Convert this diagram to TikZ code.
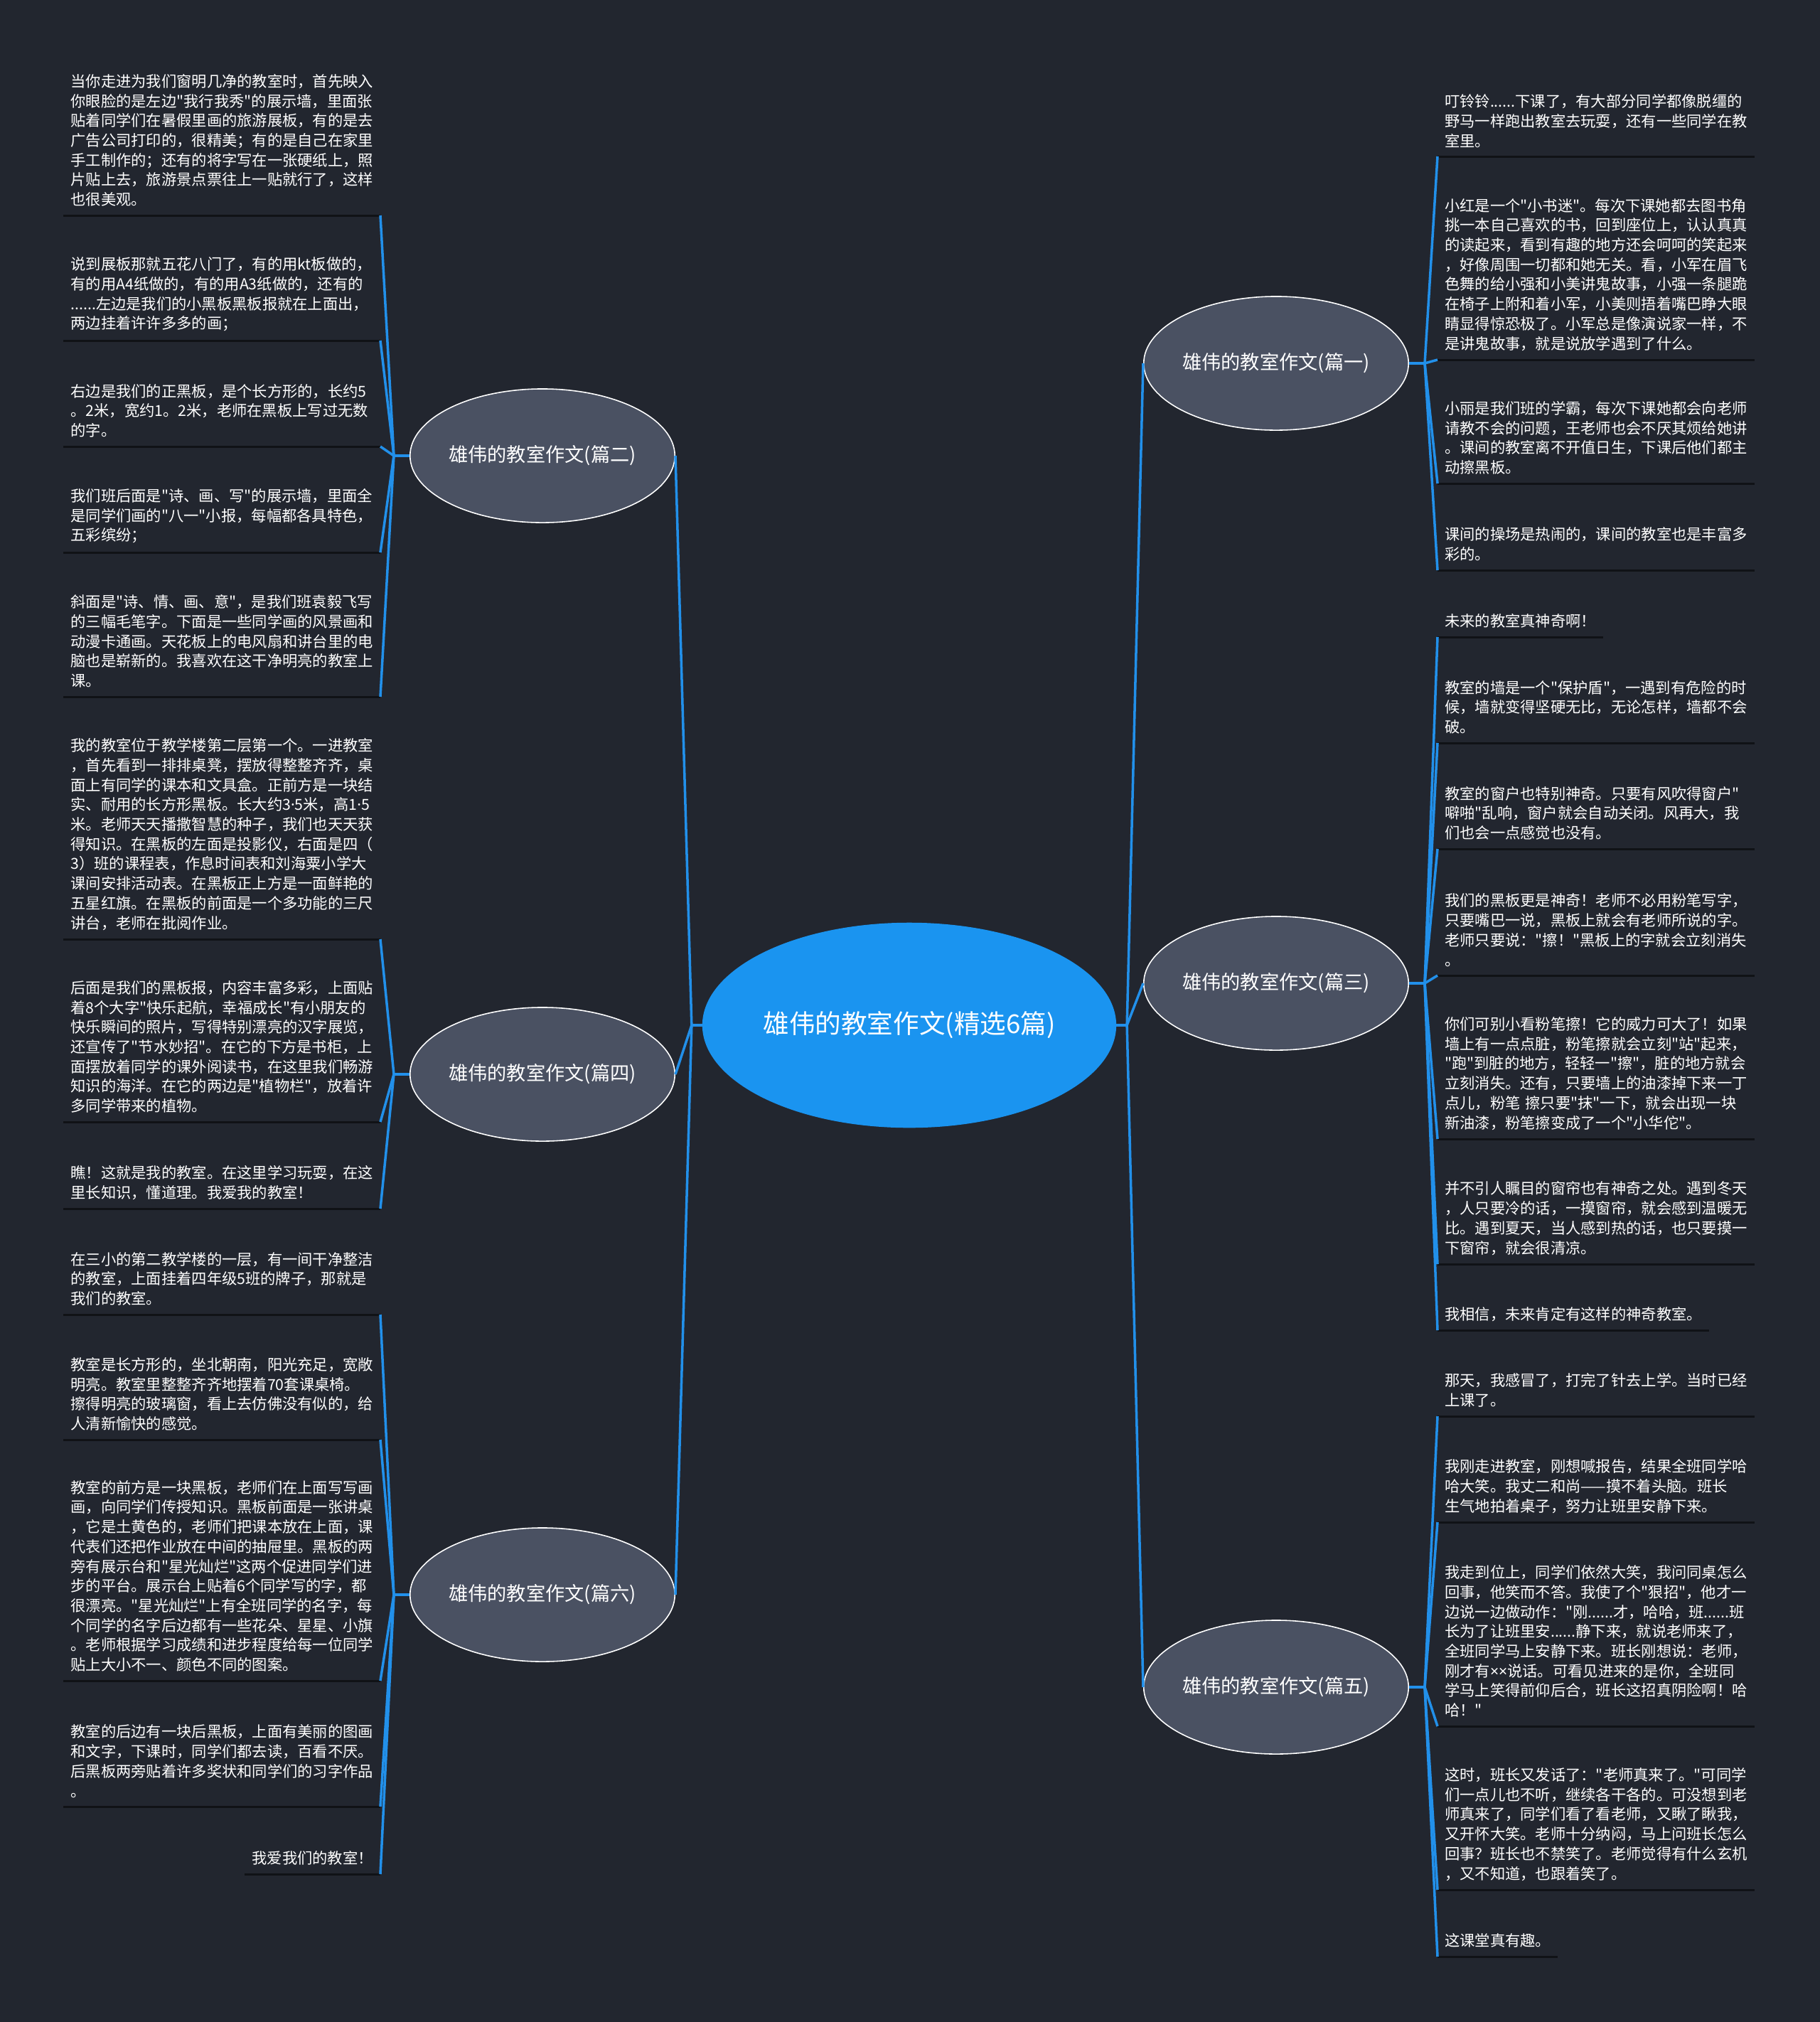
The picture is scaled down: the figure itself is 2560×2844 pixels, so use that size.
\documentclass[tikz,border=0pt]{standalone}
\usepackage{fontspec}
\setmainfont{Noto Sans CJK SC}[Ligatures=TeXOff]
\newfontfamily\latin{Noto Sans}[Ligatures=TeXOff]
\usetikzlibrary{shapes.geometric, positioning, calc}
\definecolor{cbg}{HTML}{22262F}
\definecolor{cblue}{HTML}{1A94F0}
\definecolor{clink}{HTML}{2290EA}
\definecolor{cbranch}{HTML}{4A5162}
\definecolor{crule}{HTML}{101216}
\newcommand{\md}{{\latin ·}}
\tikzset{
  every picture/.style={x=0.01cm, y=-0.01cm},
  root/.style={ellipse, fill=cblue, draw=cblue, text=white, minimum width=5.8cm, minimum height=2.87cm, inner sep=0pt, font=\fontsize{10.4pt}{12pt}\selectfont},
  branch/.style={ellipse, fill=cbranch, draw=white, line width=0.45pt, text=white, minimum width=3.72cm, minimum height=1.88cm, inner sep=0pt, font=\fontsize{7.74pt}{9pt}\selectfont},
  leafbase/.style={text=white, inner xsep=0.095cm, inner ysep=0.12cm, font=\fontsize{6.05pt}{7.88pt}\selectfont},
  leaf/.style={leafbase, text width=4.25cm, align=left},
  tag/.style={leafbase},
  link/.style={draw=clink, line width=1pt},
  rule/.style={draw=crule, line width=0.85pt},
}
\begin{document}
\begin{tikzpicture}
  \fill[cbg] (0,0) rectangle (2560,2844);
  \useasboundingbox (0,0) rectangle (2560,2844);
  % root and the six essays
  \node[root] (root) at (1279,1442) {雄伟的教室作文(精选6篇)};
  \node[branch] (b1) at (1795,511) {雄伟的教室作文(篇一)};
  \node[branch] (b2) at (763,641) {雄伟的教室作文(篇二)};
  \node[branch] (b3) at (1795,1383) {雄伟的教室作文(篇三)};
  \node[branch] (b4) at (763,1511) {雄伟的教室作文(篇四)};
  \node[branch] (b5) at (1795,2373) {雄伟的教室作文(篇五)};
  \node[branch] (b6) at (763,2243) {雄伟的教室作文(篇六)};
  % left: 篇二
  \node[leaf, anchor=south east] (l1) at (535,303) {当你走进为我们窗明几净的教室时，首先映入\\你眼脸的是左边"我行我秀"的展示墙，里面张\\贴着同学们在暑假里画的旅游展板，有的是去\\广告公司打印的，很精美；有的是自己在家里\\手工制作的；还有的将字写在一张硬纸上，照\\片贴上去，旅游景点票往上一贴就行了，这样\\也很美观。};
  \node[leaf, anchor=south east] (l2) at (535,479) {说到展板那就五花八门了，有的用kt板做的，\\有的用A4纸做的，有的用A3纸做的，还有的\\......左边是我们的小黑板黑板报就在上面出，\\两边挂着许许多多的画；};
  \node[leaf, anchor=south east] (l3) at (535,628) {右边是我们的正黑板，是个长方形的，长约5\\。2米，宽约1。2米，老师在黑板上写过无数\\的字。};
  \node[leaf, anchor=south east] (l4) at (535,777) {我们班后面是"诗、画、写"的展示墙，里面全\\是同学们画的"八一"小报，每幅都各具特色，\\五彩缤纷；};
  \node[leaf, anchor=south east] (l5) at (535,980) {斜面是"诗、情、画、意"，是我们班袁毅飞写\\的三幅毛笔字。下面是一些同学画的风景画和\\动漫卡通画。天花板上的电风扇和讲台里的电\\脑也是崭新的。我喜欢在这干净明亮的教室上\\课。};
  % left: 篇四
  \node[leaf, anchor=south east] (l6) at (535,1321) {我的教室位于教学楼第二层第一个。一进教室\\，首先看到一排排桌凳，摆放得整整齐齐，桌\\面上有同学的课本和文具盒。正前方是一块结\\实、耐用的长方形黑板。长大约3\md5米，高1\md5\\米。老师天天播撒智慧的种子，我们也天天获\\得知识。在黑板的左面是投影仪，右面是四（\\3）班的课程表，作息时间表和刘海粟小学大\\课间安排活动表。在黑板正上方是一面鲜艳的\\五星红旗。在黑板的前面是一个多功能的三尺\\讲台，老师在批阅作业。};
  \node[leaf, anchor=south east] (l7) at (535,1578) {后面是我们的黑板报，内容丰富多彩，上面贴\\着8个大字"快乐起航，幸福成长"有小朋友的\\快乐瞬间的照片，写得特别漂亮的汉字展览，\\还宣传了"节水妙招"。在它的下方是书柜，上\\面摆放着同学的课外阅读书，在这里我们畅游\\知识的海洋。在它的两边是"植物栏"，放着许\\多同学带来的植物。};
  \node[leaf, anchor=south east] (l8) at (535,1700) {瞧！这就是我的教室。在这里学习玩耍，在这\\里长知识，懂道理。我爱我的教室！};
  % left: 篇六
  \node[leaf, anchor=south east] (l9) at (535,1849) {在三小的第二教学楼的一层，有一间干净整洁\\的教室，上面挂着四年级5班的牌子，那就是\\我们的教室。};
  \node[leaf, anchor=south east] (l10) at (535,2025) {教室是长方形的，坐北朝南，阳光充足，宽敞\\明亮。教室里整整齐齐地摆着70套课桌椅。\\擦得明亮的玻璃窗，看上去仿佛没有似的，给\\人清新愉快的感觉。};
  \node[leaf, anchor=south east] (l11) at (535,2364) {教室的前方是一块黑板，老师们在上面写写画\\画，向同学们传授知识。黑板前面是一张讲桌\\，它是土黄色的，老师们把课本放在上面，课\\代表们还把作业放在中间的抽屉里。黑板的两\\旁有展示台和"星光灿烂"这两个促进同学们进\\步的平台。展示台上贴着6个同学写的字，都\\很漂亮。"星光灿烂"上有全班同学的名字，每\\个同学的名字后边都有一些花朵、星星、小旗\\。老师根据学习成绩和进步程度给每一位同学\\贴上大小不一、颜色不同的图案。};
  \node[leaf, anchor=south east] (l12) at (535,2541) {教室的后边有一块后黑板，上面有美丽的图画\\和文字，下课时，同学们都去读，百看不厌。\\后黑板两旁贴着许多奖状和同学们的习字作品\\。};
  \node[tag, anchor=south east] (l13) at (535,2636) {我爱我们的教室！};
  % right: 篇一
  \node[leaf, anchor=south west] (r1) at (2022,220) {叮铃铃......下课了，有大部分同学都像脱缰的\\野马一样跑出教室去玩耍，还有一些同学在教\\室里。};
  \node[leaf, anchor=south west] (r2) at (2022,506) {小红是一个"小书迷"。每次下课她都去图书角\\挑一本自己喜欢的书，回到座位上，认认真真\\的读起来，看到有趣的地方还会呵呵的笑起来\\，好像周围一切都和她无关。看，小军在眉飞\\色舞的给小强和小美讲鬼故事，小强一条腿跪\\在椅子上附和着小军，小美则捂着嘴巴睁大眼\\睛显得惊恐极了。小军总是像演说家一样，不\\是讲鬼故事，就是说放学遇到了什么。};
  \node[leaf, anchor=south west] (r3) at (2022,680) {小丽是我们班的学霸，每次下课她都会向老师\\请教不会的问题，王老师也会不厌其烦给她讲\\。课间的教室离不开值日生，下课后他们都主\\动擦黑板。};
  \node[leaf, anchor=south west] (r4) at (2022,802) {课间的操场是热闹的，课间的教室也是丰富多\\彩的。};
  % right: 篇三
  \node[tag, anchor=south west] (r5) at (2022,896) {未来的教室真神奇啊！};
  \node[leaf, anchor=south west] (r6) at (2022,1045) {教室的墙是一个"保护盾"，一遇到有危险的时\\候，墙就变得坚硬无比，无论怎样，墙都不会\\破。};
  \node[leaf, anchor=south west] (r7) at (2022,1194) {教室的窗户也特别神奇。只要有风吹得窗户"\\噼啪"乱响，窗户就会自动关闭。风再大，我\\们也会一点感觉也没有。};
  \node[leaf, anchor=south west] (r8) at (2022,1372) {我们的黑板更是神奇！老师不必用粉笔写字，\\只要嘴巴一说，黑板上就会有老师所说的字。\\老师只要说："擦！"黑板上的字就会立刻消失\\。};
  \node[leaf, anchor=south west] (r9) at (2022,1602) {你们可别小看粉笔擦！它的威力可大了！如果\\墙上有一点点脏，粉笔擦就会立刻"站"起来，\\"跑"到脏的地方，轻轻一"擦"，脏的地方就会\\立刻消失。还有，只要墙上的油漆掉下来一丁\\点儿，粉笔~擦只要"抹"一下，就会出现一块\\新油漆，粉笔擦变成了一个"小华佗"。};
  \node[leaf, anchor=south west] (r10) at (2022,1778) {并不引人瞩目的窗帘也有神奇之处。遇到冬天\\，人只要冷的话，一摸窗帘，就会感到温暖无\\比。遇到夏天，当人感到热的话，也只要摸一\\下窗帘，就会很清凉。};
  \node[tag, anchor=south west] (r11) at (2022,1871) {我相信，未来肯定有这样的神奇教室。};
  % right: 篇五
  \node[leaf, anchor=south west] (r12) at (2022,1992) {那天，我感冒了，打完了针去上学。当时已经\\上课了。};
  \node[leaf, anchor=south west] (r13) at (2022,2141) {我刚走进教室，刚想喊报告，结果全班同学哈\\哈大笑。我丈二和尚——摸不着头脑。班长\\生气地拍着桌子，努力让班里安静下来。};
  \node[leaf, anchor=south west] (r14) at (2022,2428) {我走到位上，同学们依然大笑，我问同桌怎么\\回事，他笑而不答。我使了个"狠招"，他才一\\边说一边做动作："刚......才，哈哈，班......班\\长为了让班里安......静下来，就说老师来了，\\全班同学马上安静下来。班长刚想说：老师，\\刚才有{\latin ××}说话。可看见进来的是你，全班同\\学马上笑得前仰后合，班长这招真阴险啊！哈\\哈！"};
  \node[leaf, anchor=south west] (r15) at (2022,2658) {这时，班长又发话了："老师真来了。"可同学\\们一点儿也不听，继续各干各的。可没想到老\\师真来了，同学们看了看老师，又瞅了瞅我，\\又开怀大笑。老师十分纳闷，马上问班长怎么\\回事？班长也不禁笑了。老师觉得有什么玄机\\，又不知道，也跟着笑了。};
  \node[tag, anchor=south west] (r16) at (2022,2752) {这课堂真有趣。};
  % underlines
  \foreach \i in {1,...,13} { \draw[rule] (l\i.south west) -- (l\i.south east); }
  \foreach \i in {1,...,16} { \draw[rule] (r\i.south west) -- (r\i.south east); }
  % root to essays
  \coordinate (cl) at ([xshift=-0.15cm]root.west);
  \coordinate (cr) at ([xshift=0.15cm]root.east);
  \draw[link] (root.west) -- (cl);
  \draw[link] (root.east) -- (cr);
  \foreach \b in {b2, b4, b6} { \draw[link] (cl) -- (\b.east); }
  \foreach \b in {b1, b3, b5} { \draw[link] (cr) -- (\b.west); }
  % essays to paragraphs
  \foreach \b/\ls in {b2/{1,2,3,4,5}, b4/{6,7,8}, b6/{9,10,11,12,13}} {
    \coordinate (h\b) at ([xshift=-0.22cm]\b.west);
    \draw[link] (\b.west) -- (h\b);
    \foreach \i in \ls { \draw[link] (h\b) -- (l\i.south east); }
  }
  \foreach \b/\ls in {b1/{1,2,3,4}, b3/{5,6,7,8,9,10,11}, b5/{12,13,14,15,16}} {
    \coordinate (h\b) at ([xshift=0.22cm]\b.east);
    \draw[link] (\b.east) -- (h\b);
    \foreach \i in \ls { \draw[link] (h\b) -- (r\i.south west); }
  }
\end{tikzpicture}
\end{document}
